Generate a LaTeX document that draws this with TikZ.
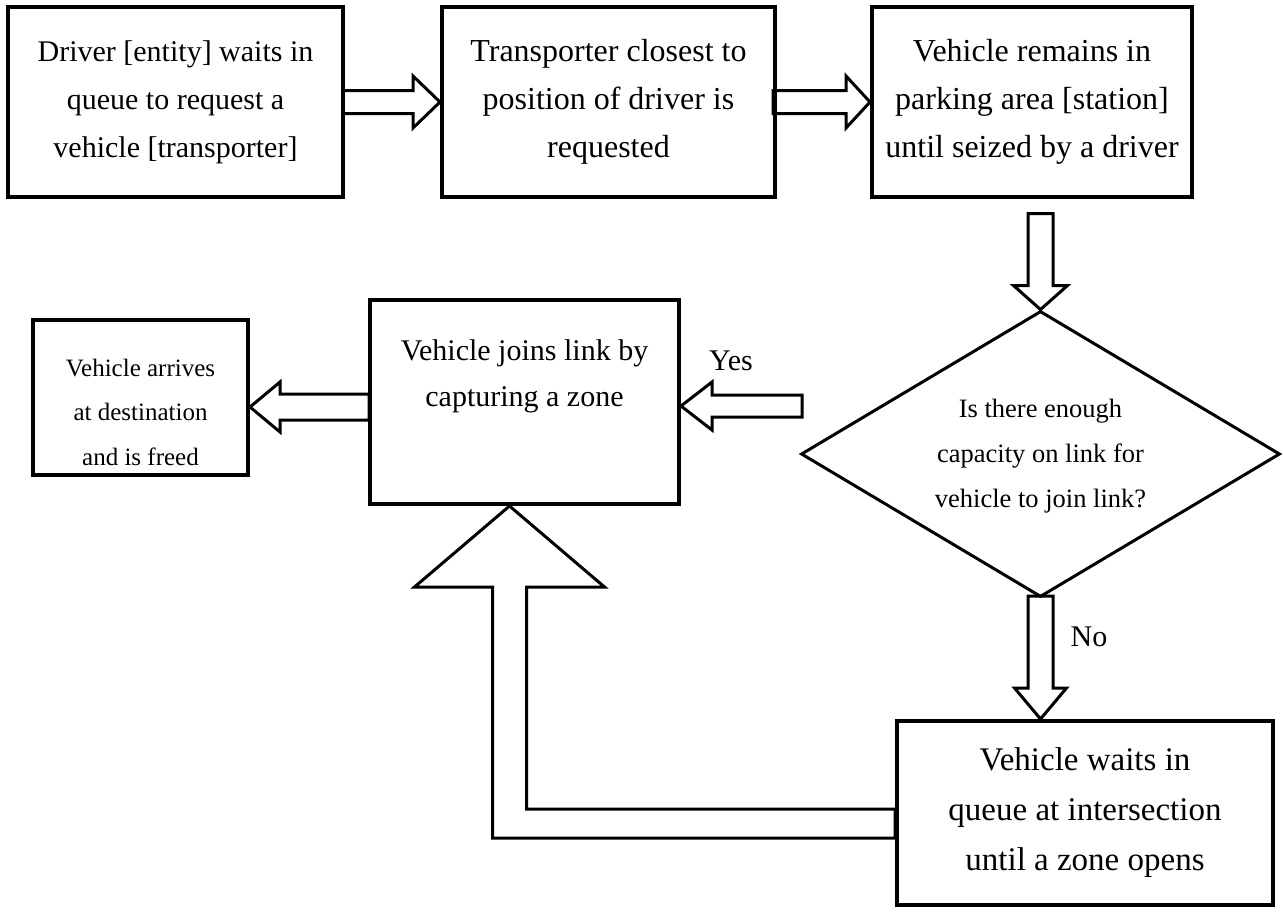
\documentclass[tikz,border=0pt]{standalone}
\usepackage{fontspec}
\setmainfont{Liberation Serif}
\usetikzlibrary{calc,shapes.geometric}
\newcommand\harr[5]{%
 \draw[barrow] ($(#1)+({-(#2)},-#4)$) -- ($(#1)+({-(#3)},-#4)$) -- ($(#1)+({-(#3)},-#5)$) -- (#1) -- ($(#1)+({-(#3)},#5)$) -- ($(#1)+({-(#3)},#4)$) -- ($(#1)+({-(#2)},#4)$) -- cycle;}
\newcommand\varr[5]{%
 \draw[barrow] ($(#1)+(-#4,{-(#2)})$) -- ($(#1)+(-#4,{-(#3)})$) -- ($(#1)+(-#5,{-(#3)})$) -- (#1) -- ($(#1)+(#5,{-(#3)})$) -- ($(#1)+(#4,{-(#3)})$) -- ($(#1)+(#4,{-(#2)})$) -- cycle;}
\begin{document}
\begin{tikzpicture}[x=1pt,y=-1pt,
  box/.style={draw, line width=4pt, inner sep=0pt, align=center, font=\fontsize{30}{48}\selectfont},
  txt/.style={inner sep=0pt, align=center},
  barrow/.style={draw, line width=3pt, line join=miter, miter limit=20}]
\fill[white] (0,0) rectangle (1283,911);
\useasboundingbox (0,0) rectangle (1283,911);
% boxes
\node[box, minimum width=335pt, minimum height=190pt] (b1) at (175.5,102) {Driver [entity] waits in\\queue to request a\\vehicle [transporter]};
\node[box, minimum width=333pt, minimum height=190pt, font=\fontsize{32}{48}\selectfont] (b2) at (608.5,102) {Transporter closest to\\position of driver is\\requested};
\node[box, minimum width=320pt, minimum height=190pt, font=\fontsize{32}{48}\selectfont] (b3) at (1032,102) {Vehicle remains in\\parking area [station]\\until seized by a driver};
\node[diamond, draw, line width=3pt, minimum width=479pt, minimum height=286pt, inner sep=0pt, aspect=1.675] (d) at (1040.5,454) {};
\node[txt, font=\fontsize{26.5}{45}\selectfont] (dt) at (1040.5,456) {Is there enough\\capacity on link for\\vehicle to join link?};
\node[box, minimum width=309pt, minimum height=204pt] (b4) at (524.5,402) {};
\node[txt, font=\fontsize{30}{46}\selectfont] (b4t) at (524.5,376) {Vehicle joins link by\\capturing a zone};
\node[box, minimum width=215pt, minimum height=155pt] (b5) at (140.5,397.5) {};
\node[txt, font=\fontsize{25}{44.5}\selectfont] (b5t) at (140.5,412) {Vehicle arrives\\at destination\\and is freed};
\node[box, minimum width=376pt, minimum height=184pt, font=\fontsize{33}{50}\selectfont] (b6) at (1085,813) {Vehicle waits in\\queue at intersection\\until a zone opens};
% labels
\node[font=\fontsize{30}{36}\selectfont, inner sep=0pt] (yes) at (731,361) {Yes};
\node[font=\fontsize{30}{36}\selectfont, inner sep=0pt] (no) at (1089,637) {No};
% tip coordinates
\coordinate (ytip) at ($(b4.east)+(0,4)$);
\coordinate (ltip) at ($(b5.east)+(0,9.5)$);
\coordinate (ntip) at (d.south |- b6.north);
\coordinate (btip) at ($(b4.south)+(-15,0)$);
% block arrows
\harr{b2.west}{97}{27}{11.5}{26}
\harr{b3.west}{97}{24}{11.5}{26}
\varr{d.north}{96}{24}{12.5}{27}
\harr{ytip}{-121}{-31}{11}{24}
\harr{ltip}{-119}{-30}{13}{25}
\varr{ntip}{123}{31}{12.5}{26}
\draw[barrow] (btip) -- ($(btip)+(95,81)$) -- ($(btip)+(17,81)$) -- ($(btip |- b6.west)+(17,-4)$) -- ($(b6.west)+(0,-4)$) -- ($(b6.west)+(0,25)$) -- ($(btip |- b6.west)+(-17,25)$) -- ($(btip)+(-17,81)$) -- ($(btip)+(-95,81)$) -- cycle;
\end{tikzpicture}
\end{document}
